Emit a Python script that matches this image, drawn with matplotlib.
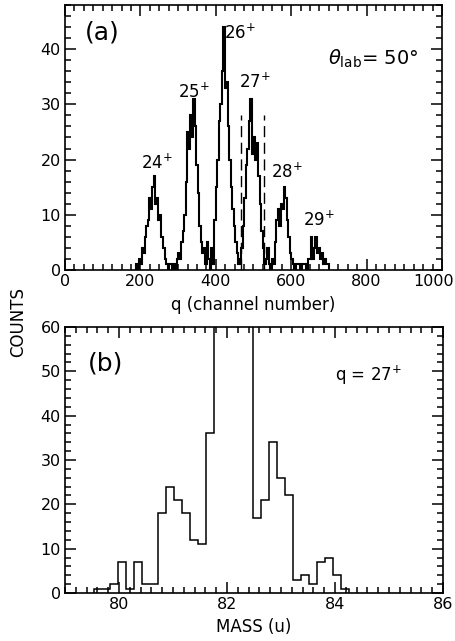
import matplotlib
matplotlib.use("Agg")
import matplotlib.pyplot as plt
import numpy as np
from matplotlib.ticker import MultipleLocator, FuncFormatter

plt.rcParams['font.family'] = ['DejaVu Sans']
plt.rcParams['mathtext.fontset'] = 'dejavusans'

# (a) charge state spectrum, 4-channel bins starting at channel 188
ch_start = 188
ch_bin = 4
cts_24 = [1, 0, 2, 1, 4, 3, 6, 8, 9, 13, 11, 15, 17, 12, 13, 9, 10, 6, 4, 2]
cts_v1 = [1, 0, 1, 1, 0, 1, 0, 2]
cts_25 = [3, 2, 5, 7, 10, 16, 25, 22, 28, 24, 31, 26, 19, 14, 8, 5, 3]
cts_v2 = [4, 1, 5, 2, 0, 4, 1]
cts_26 = [9, 15, 20, 27, 30, 36, 44, 33, 34, 26, 20, 15, 11, 8, 5, 3, 1, 2]
cts_27 = [4, 8, 13, 19, 22, 27, 31, 21, 24, 20, 23, 17, 12, 7, 4]
cts_v3 = [1, 2, 4, 1, 0, 2, 1]
cts_28 = [5, 9, 11, 8, 12, 11, 15, 13, 9, 6, 3, 2]
cts_v4 = [1, 0, 1, 1, 1, 0, 1, 1, 1, 0, 2]
cts_29 = [2, 6, 2, 4, 6, 3, 4, 2, 3, 1, 2, 1, 1, 0]
counts_a = np.array(cts_24 + cts_v1 + cts_25 + cts_v2 + cts_26 +
                    cts_27 + cts_v3 + cts_28 + cts_v4 + cts_29)
edges_a = ch_start + ch_bin * np.arange(len(counts_a) + 1)

gate_ch = [466, 527]
gate_top = 28

peak_labels = ['24', '25', '26', '27', '28', '29']
peak_lx = [245, 341, 463, 504, 589, 674]
peak_ly = [19.4, 32.2, 43, 34, 17.7, 9.1]

# (b) mass spectrum for q = 27+
mass_start = 79.54
mass_bin = 0.1475
counts_b = [1, 1, 2, 7, 1, 7, 2, 2, 18, 24, 21, 18, 12, 11, 36,
            75, 120, 160, 110, 70,
            17, 21, 34, 26, 22, 3, 4, 2, 7, 8, 4, 1]
edges_b = mass_start + mass_bin * np.arange(len(counts_b) + 1)

fig = plt.figure(figsize=(4.56, 6.41), dpi=100)
ax1 = fig.add_axes([0.1425, 0.5788, 0.8268, 0.4134])
ax2 = fig.add_axes([0.1425, 0.0749, 0.829, 0.415])

for ax in (ax1, ax2):
    for s in ax.spines.values():
        s.set_linewidth(1.2)
    ax.tick_params(which='both', direction='in', top=True, right=True,
                   labelsize=11.5, pad=3, width=1.1)
    ax.tick_params(which='major', length=8)
    ax.tick_params(which='minor', length=4)

# panel a
ax1.stairs(counts_a, edges_a, baseline=0, color='k', lw=1.5)
ax1.vlines(gate_ch, 0, gate_top, colors='k', lw=1.0, linestyles=(0, (8, 4)))
ax1.set_xlim(0, 1000)
ax1.set_ylim(0, 48)
ax1.xaxis.set_major_locator(MultipleLocator(200))
ax1.xaxis.set_minor_locator(MultipleLocator(25))
ax1.yaxis.set_major_locator(MultipleLocator(10))
ax1.yaxis.set_minor_locator(MultipleLocator(2))
# last label drawn separately, a bit to the left, so it is not cut off
ax1.xaxis.set_major_formatter(FuncFormatter(lambda v, p: '' if v >= 1000 else '%d' % v))
ax1.annotate('1000', xy=(1000, 0), xycoords=('data', 'axes fraction'),
             xytext=(-6, -3), textcoords='offset points',
             ha='center', va='top', fontsize=11.5)
ax1.set_xlabel('q (channel number)', fontsize=12, labelpad=5)
for lab, x, y in zip(peak_labels, peak_lx, peak_ly):
    ax1.text(x, y, lab + r'$^{+}$', fontsize=12, ha='center', va='center')
ax1.text(53, 43, '(a)', fontsize=18, ha='left', va='center')
ax1.text(698, 38.2, r'$\theta_{\rm lab}$= 50°', fontsize=14, ha='left', va='center')

# panel b
ax2.stairs(counts_b, edges_b, baseline=0, color='k', lw=1.1)
ax2.set_xlim(79, 86)
ax2.set_ylim(0, 60)
ax2.xaxis.set_major_locator(MultipleLocator(2))
ax2.xaxis.set_minor_locator(MultipleLocator(0.2))
ax2.yaxis.set_major_locator(MultipleLocator(10))
ax2.yaxis.set_minor_locator(MultipleLocator(2))
ax2.set_xlabel('MASS (u)', fontsize=12, labelpad=4)
ax2.text(79.43, 51.7, '(b)', fontsize=18, ha='left', va='center')
ax2.text(84.0, 49.2, r'q = 27$^{+}$', fontsize=12, ha='left', va='center')

fig.text(18 / 456, 1 - 322 / 641, 'COUNTS', rotation=90, fontsize=12,
         ha='center', va='center')

fig.savefig('out.png', dpi=100)
